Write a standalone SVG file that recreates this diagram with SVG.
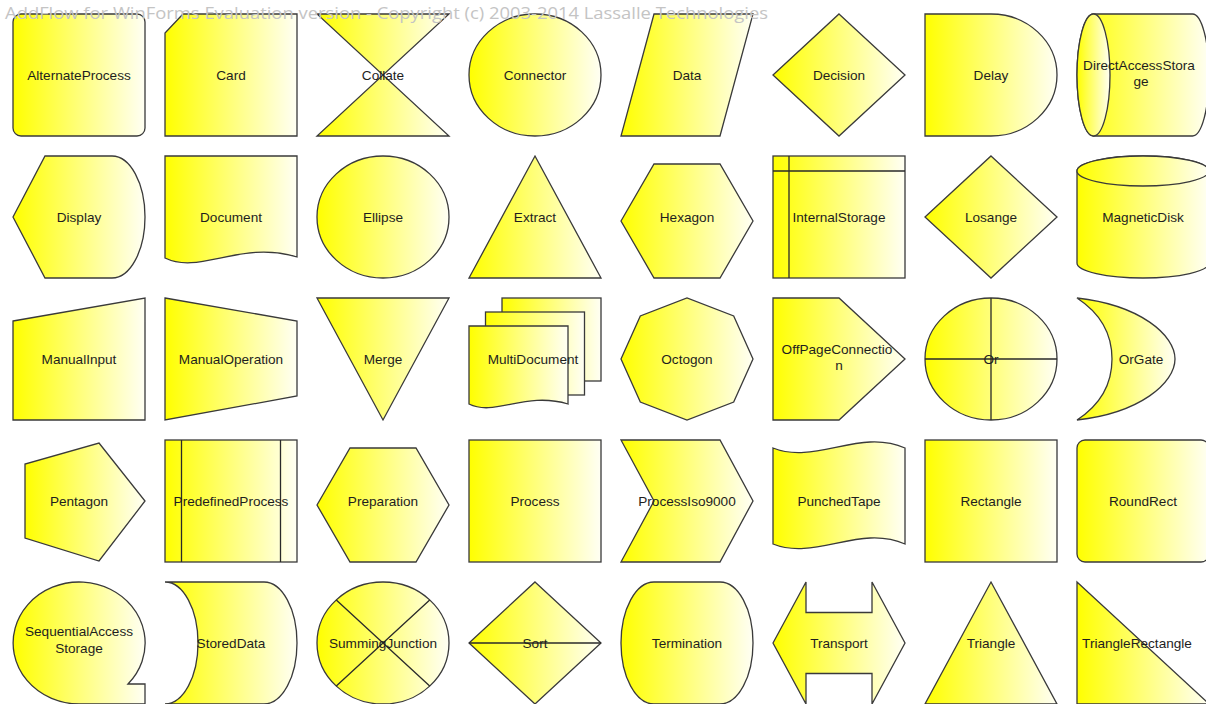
<svg xmlns="http://www.w3.org/2000/svg" width="1206" height="704" viewBox="0 0 1206 704">
<defs>
<linearGradient id="g" x1="0" y1="0" x2="1" y2="0">
<stop offset="0" stop-color="#ffff00"/>
<stop offset="1" stop-color="#fffff4"/>
</linearGradient>
<style>
.s{fill:url(#g);stroke:#3a3a3a;stroke-width:1.3;stroke-linejoin:miter}
.l{fill:none;stroke:#2a2a2a;stroke-width:1.3}
.t{font-family:"Liberation Sans",Arial,sans-serif;font-size:13.6px;fill:#1e1e1e;text-anchor:middle}
.w{font-family:"Open Sans","Liberation Sans",Arial,sans-serif;font-size:16px;fill:#c4c4c4}
</style>
</defs>
<rect width="1206" height="704" fill="#ffffff"/>
<g id="connectors"></g>
<!-- Row 1 -->
<g id="AlternateProcess"><rect class="s" x="13" y="14" width="132" height="122" rx="8"/><text class="t" x="79" y="79.5">AlternateProcess</text></g>
<g id="Card"><path class="s" d="M183,14 H297 V136 H165 V33 Z"/><text class="t" x="231" y="79.5">Card</text></g>
<g id="Collate"><path class="s" d="M317,14 H449 L317,136 H449 Z"/><text class="t" x="383" y="79.5">Collate</text></g>
<g id="Connector"><ellipse class="s" cx="535" cy="75" rx="66" ry="61"/><text class="t" x="535" y="79.5">Connector</text></g>
<g id="Data"><path class="s" d="M654,14 H753 L720,136 H621 Z"/><text class="t" x="687" y="79.5">Data</text></g>
<g id="Decision"><path class="s" d="M839,14 L905,75 L839,136 L773,75 Z"/><text class="t" x="839" y="79.5">Decision</text></g>
<g id="Delay"><path class="s" d="M925,14 H991 A66,61 0 0 1 991,136 H925 Z"/><text class="t" x="991" y="79.5">Delay</text></g>
<g id="DirectAccessStorage"><path class="s" d="M1093.5,14 H1192.5 A16.5,61 0 0 1 1192.5,136 H1093.5 A16.5,61 0 0 1 1093.5,14 Z"/><ellipse class="s" cx="1093.5" cy="75" rx="16.5" ry="61"/><text class="t" x="1139" y="70">DirectAccessStora</text><text class="t" x="1141" y="86">ge</text></g>
<!-- Row 2 -->
<g id="Display"><path class="s" d="M13,217 L45,156 H112 A33,61 0 0 1 112,278 H45 Z"/><text class="t" x="79" y="221.5">Display</text></g>
<g id="Document"><path class="s" d="M165,156 H297 V257 C240,240 200,275 165,258 Z"/><text class="t" x="231" y="221.5">Document</text></g>
<g id="Ellipse"><ellipse class="s" cx="383" cy="217" rx="66" ry="61"/><text class="t" x="383" y="221.5">Ellipse</text></g>
<g id="Extract"><path class="s" d="M535,156 L601,278 H469 Z"/><text class="t" x="535" y="221.5">Extract</text></g>
<g id="Hexagon"><path class="s" d="M621,221 L654,164 H720 L753,221 L720,278 H654 Z"/><text class="t" x="687" y="221.5">Hexagon</text></g>
<g id="InternalStorage"><rect class="s" x="773" y="156" width="132" height="122"/><path class="l" d="M789,156 V278 M773,171 H905"/><text class="t" x="839" y="221.5">InternalStorage</text></g>
<g id="Losange"><path class="s" d="M991,156 L1057,217 L991,278 L925,217 Z"/><text class="t" x="991" y="221.5">Losange</text></g>
<g id="MagneticDisk"><path class="s" d="M1077,171 A66,15 0 0 1 1209,171 V263 A66,15 0 0 1 1077,263 Z"/><ellipse class="s" cx="1143" cy="171" rx="66" ry="15"/><text class="t" x="1143" y="221.5">MagneticDisk</text></g>
<!-- Row 3 -->
<g id="ManualInput"><path class="s" d="M13,321 L145,298 V420 H13 Z"/><text class="t" x="79" y="363.5">ManualInput</text></g>
<g id="ManualOperation"><path class="s" d="M165,298 L297,321 V396 L165,420 Z"/><text class="t" x="231" y="363.5">ManualOperation</text></g>
<g id="Merge"><path class="s" d="M317,298 H449 L383,420 Z"/><text class="t" x="383" y="363.5">Merge</text></g>
<g id="MultiDocument"><rect class="s" x="502" y="298" width="99" height="83"/><rect class="s" x="485.5" y="312" width="99" height="83"/><path class="s" d="M469,326 H568 V404 C525,391 495,417 469,404 Z"/><text class="t" x="533" y="363.5">MultiDocument</text></g>
<g id="Octogon"><path class="s" d="M621,359 L640.3,315.9 L687,298 L733.7,315.9 L753,359 L733.7,402.1 L687,420 L640.3,402.1 Z"/><text class="t" x="687" y="363.5">Octogon</text></g>
<g id="OffPageConnection"><path class="s" d="M773,298 H839 L905,359 L839,420 H773 Z"/><text class="t" x="837" y="354">OffPageConnectio</text><text class="t" x="839" y="370">n</text></g>
<g id="Or"><ellipse class="s" cx="991" cy="359" rx="66" ry="61"/><path class="l" d="M991,298 V420 M925,359 H1057"/><text class="t" x="991" y="363.5">Or</text></g>
<g id="OrGate"><path class="s" d="M1077,298 C1140,305 1175,335 1175,359 C1175,383 1140,413 1077,420 C1100,405 1112,385 1112,359 C1112,333 1100,313 1077,298 Z"/><text class="t" x="1141" y="363.5">OrGate</text></g>
<!-- Row 4 -->
<g id="Pentagon"><path class="s" d="M99,443 L145,501 L99,561 L25,538 L25,464 Z"/><text class="t" x="79" y="505.5">Pentagon</text></g>
<g id="PredefinedProcess"><rect class="s" x="165" y="440" width="132" height="122"/><path class="l" d="M181.5,440 V562 M280.5,440 V562"/><text class="t" x="231" y="505.5">PredefinedProcess</text></g>
<g id="Preparation"><path class="s" d="M317,505 L350,448 H416 L449,505 L416,562 H350 Z"/><text class="t" x="383" y="505.5">Preparation</text></g>
<g id="Process"><rect class="s" x="469" y="440" width="132" height="122"/><text class="t" x="535" y="505.5">Process</text></g>
<g id="ProcessIso9000"><path class="s" d="M621,440 H720 L753,501 L720,562 H621 L654,501 Z"/><text class="t" x="687" y="505.5">ProcessIso9000</text></g>
<g id="PunchedTape"><path class="s" d="M773,448 C815,465 860,428 905,448 V544 C860,524 815,561 773,544 Z"/><text class="t" x="839" y="505.5">PunchedTape</text></g>
<g id="Rectangle"><rect class="s" x="925" y="440" width="132" height="122"/><text class="t" x="991" y="505.5">Rectangle</text></g>
<g id="RoundRect"><rect class="s" x="1077" y="440" width="132" height="122" rx="8"/><text class="t" x="1143" y="505.5">RoundRect</text></g>
<!-- Row 5 -->
<g id="SequentialAccessStorage"><path class="s" d="M79,704 A66,61 0 1 1 128,684 H145 V704 Z"/><text class="t" x="79" y="636">SequentialAccess</text><text class="t" x="79" y="653">Storage</text></g>
<g id="StoredData"><path class="s" d="M165,582 H264 A33,61 0 0 1 264,704 H165 A33,61 0 0 0 165,582 Z"/><text class="t" x="231" y="647.5">StoredData</text></g>
<g id="SummingJunction"><ellipse class="s" cx="383" cy="643" rx="66" ry="61"/><path class="l" d="M336.3,599.9 L429.7,686.1 M429.7,599.9 L336.3,686.1"/><text class="t" x="383" y="647.5">SummingJunction</text></g>
<g id="Sort"><path class="s" d="M535,582 L601,643 L535,704 L469,643 Z"/><path class="l" d="M469,643 H601"/><text class="t" x="535" y="647.5">Sort</text></g>
<g id="Termination"><path class="s" d="M654,582 H720 A33,61 0 0 1 720,704 H654 A33,61 0 0 1 654,582 Z"/><text class="t" x="687" y="647.5">Termination</text></g>
<g id="Transport"><path class="s" d="M773,643 L806,582 V612.5 H872 V582 L905,643 L872,704 V673.5 H806 V704 Z"/><text class="t" x="839" y="647.5">Transport</text></g>
<g id="Triangle"><path class="s" d="M991,582 L1057,704 H925 Z"/><text class="t" x="991" y="647.5">Triangle</text></g>
<g id="TriangleRectangle"><path class="s" d="M1077,582 L1209,704 H1077 Z"/><text class="t" x="1137" y="647.5">TriangleRectangle</text></g>
<text class="w" x="5" y="19" textLength="763" lengthAdjust="spacingAndGlyphs">AddFlow for WinForms Evaluation version - Copyright (c) 2003-2014 Lassalle Technologies</text>
</svg>
